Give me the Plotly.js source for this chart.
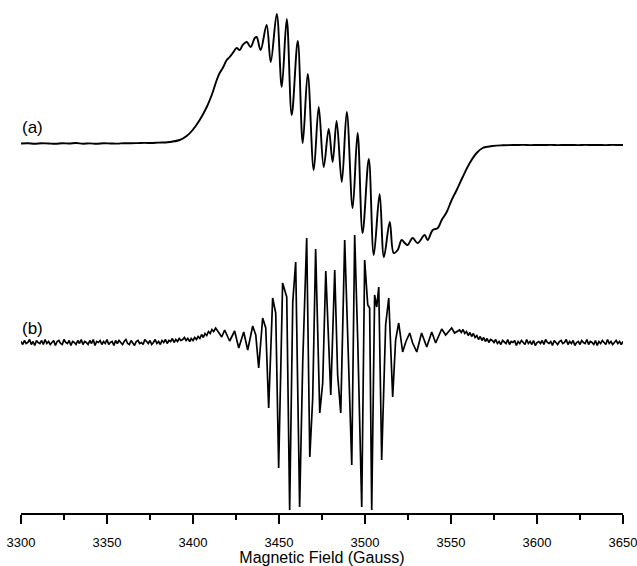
<!DOCTYPE html>
<html>
<head>
<meta charset="utf-8">
<script src="https://cdn.plot.ly/plotly-3.0.1.min.js"></script>
<style>html,body{margin:0;padding:0;background:#fff;}#chart{width:637px;height:566px;}</style>
</head>
<body>
<div id="chart"></div>
<script>
// Spectrum (a): field (Gauss) and derivative signal (arbitrary units, relative to baseline)
var aField = [3300,3304,3308,3312,3316,3320,3324,3328,3332,3336,3340,3344,3348,3352,3356,3360,3364,3368,3372,3376,3380,3384,
  3386.5,3392.3,3396.3,3399.8,3403.9,3408.0,3410.9,3413.8,3415.5,3417.3,3419.6,3421.3,3423.1,3425.4,3427.1,3428.9,3431.2,3433.5,3435.9,3437.0,
  3439.3,3442.8,3445.2,3448.7,3451.6,3454.5,3457.4,3460.9,3463.8,3466.7,3470.2,3473.1,3476.0,3478.9,3481.2,3483.5,3486.5,3489.4,3492.8,3495.7,
  3498.6,3502.2,3505.1,3508.5,3511.0,3514.4,3516.7,3519.0,3521.3,3523.1,3524.8,3527.7,3530.6,3534.7,3536.4,3539.4,3542.3,3544.6,3547.5,3550.4,
  3553.3,3556.8,3560.9,3564.9,3568.4,3574.2,3580.0,
  3588,3592,3596,3600,3604,3608,3612,3616,3620,3624,3628,3632,3636,3640,3644,3648,3650];
var aSignal = [0,0.2,-0.2,0.3,0,-0.3,0.2,0,0.5,-0.2,0.1,-0.3,0.2,0,-0.1,0.3,0.2,0.4,0.6,0.5,0.9,1.0,
  1.5,3.5,7.5,13.5,23.5,36.5,48.5,63.5,70.5,75.5,83.5,86.5,90.5,95.5,93.5,98.5,101.5,96.5,105.5,106.5,
  93.5,118.5,81.5,129.5,56.5,124.5,28.5,102.5,0.5,69.5,-26.5,36.5,-23.5,14.5,-18.5,22.5,-38.5,31.5,-64.5,10.5,
  -89.5,-15.5,-111.5,-50.5,-113.5,-78.5,-109.5,-106.5,-96.5,-99.5,-101.5,-94.5,-99.5,-91.5,-96.5,-86.5,-84.5,-76.5,-68.5,-56.5,
  -46.5,-33.5,-19.5,-9.5,-4.5,-2.5,-1.8,
  -1.5,-1.4,-1.6,-1.5,-1.5,-1.4,-1.6,-1.5,-1.5,-1.6,-1.4,-1.5,-1.5,-1.6,-1.4,-1.5,-1.5];

// Spectrum (b): field (Gauss) and signal (arbitrary units, relative to baseline)
var bField = [
  3300,3301,3302,3303,3304,3305,3306,3307,3308,3309,3310,3311,3312,3313,3314,3315,3316,3317,3318,3319,
  3320,3321,3322,3323,3324,3325,3326,3327,3328,3329,3330,3331,3332,3333,3334,3335,3336,3337,3338,3339,
  3340,3341,3342,3343,3344,3345,3346,3347,3348,3349,3350,3351,3352,3353,3354,3355,3356,3357,3358,3359,
  3360,3361,3362,3363,3364,3365,3366,3367,3368,3369,3370,3371,3372,3373,3374,3375,3376,3377,3378,3379,
  3380,3381,3382,3383,3384,3385,3386,3387,3388,3389,3390,3391,3392,3393,3394,3395,3396,
  3397,3398.1,3399,3400,3401,3402,3403,3404,3405,3406,3407,3408,3409,3410,3411,3412,
  3413.2,3416.7,3418.4,3421.3,3424.2,3426.6,3429.5,3431.8,3434.7,3436.5,3438.2,
  3440.5,3442.3,3444.0,3446.3,3448.1,3449.8,3452.1,3453.3,3454.5,3456.2,3458.0,3459.7,3462.0,3463.8,3466.1,3467.9,
  3469.6,3471.3,3473.7,3475.4,3477.2,3480.1,3482.4,3484.1,3485.9,3488.2,3492.3,3494.0,3495.8,3498.1,3499.8,3501.6,
  3502.7,3503.9,3505.6,3506.8,3508.0,3509.7,3512.0,3513.8,3516.1,3517.8,3519.6,3521.9,3523.7,3526.0,3527.7,3530.1,
  3532.9,3535.9,3538.8,3541.1,3544.6,3546.9,3550.4,3552.1,3555.0,
  3556,3557,3558,3559,3560,3561,3562,3563,3564,3565,3566,3567,3568,3569,3570,3571,3572,3573,
  3574,3575,3576,3577,3578,3579,3580,3581,3582,3583,3584,3585,3586,3587,3588,3589,3590,3591,3592,3593,
  3594,3595,3596,3597,3598,3599,3600,3601,3602,3603,3604,3605,3606,3607,3608,3609,3610,3611,3612,3613,
  3614,3615,3616,3617,3618,3619,3620,3621,3622,3623,3624,3625,3626,3627,3628,3629,3630,3631,3632,3633,
  3634,3635,3636,3637,3638,3639,3640,3641,3642,3643,3644,3645,3646,3647,3648,3649,3650];
var bSignal = [
  1,-2,2,-1,0,3,-2,1,-3,2, 0,-1,2,-2,3,-1,1,-2,0,2,
  -3,1,2,-1,-2,3,0,-1,2,-3, 1,0,-2,2,-1,3,-2,1,0,-2,
  2,-1,3,-3,1,0,2,-2,1,-1, 3,-2,0,1,-3,2,-1,2,0,-2,
  1,3,-1,-2,2,0,-3,1,2,-1, 0,-2,3,1,-1,2,-2,0,3,-1,
  1,-2,2,0,3,-1,2,1,4,0, 3,1,4,2,3,5,2,
  4,1,4,2,5,3,6,4,8,5,9,7,11,9,13,11,
  14.5,5.5,12.5,1.5,11.5,-5.5,10.5,-7.5,16.5,7.5,-25.5,
  24.5,14.5,-65.5,44.5,29.5,-125.5,59.5,52.5,45.5,-167.5,40.5,80.5,-164.5,-19.5,104.5,-114.5,
  -55.5,93.5,-70.5,-40.5,71.5,-52.5,72.5,-32.5,-70.5,102.5,-122.5,107.5,0.5,-164.5,82.5,37.5,
  34.5,-167.5,47.5,35.5,55.5,-117.5,17.5,44.5,-54.5,2.5,19.5,-9.5,0.5,9.5,-0.5,-9.5,
  9.5,-4.5,10.5,-0.5,13.5,7.5,14.5,9.5,12.5,
  10,13,9,11,7,10,6,9,5,7,3,6,2,5,1,4,0,3,
  2,0,3,-1,1,-2,2,0,-1,3, -2,1,0,2,-3,1,-1,2,0,-2,
  3,-1,1,-2,2,-3,0,1,-1,2, -2,3,0,-1,1,-3,2,0,-2,1,
  2,-1,0,3,-2,1,-1,2,-3,0, 1,-2,2,0,-1,3,-2,1,0,-2,
  2,-3,1,-1,2,0,-2,3,-1,1, -2,0,2,-1,1,-2,1];

var xTickVals = [3300,3350,3400,3450,3500,3550,3600,3650];
var curveLabels = ["(a)", "(b)"];

// vertical placement of the two stacked spectra (hidden y axis, 0..513)
var offsetA = 369.5, offsetB = 170.5;

var traces = [
  {x: aField, y: aSignal.map(function(v){return v + offsetA;}), type: 'scatter', mode: 'lines',
   line: {color: '#000', width: 1.9, shape: 'spline', smoothing: 1}, hoverinfo: 'skip'},
  {x: bField, y: bSignal.map(function(v){return v + offsetB;}), type: 'scatter', mode: 'lines',
   line: {color: '#000', width: 1.7}, hoverinfo: 'skip'}
];

var layout = {
  width: 637, height: 566,
  margin: {l: 21.3, r: 13.7, t: 0, b: 53},
  paper_bgcolor: '#fff', plot_bgcolor: '#fff',
  showlegend: false,
  font: {family: 'Liberation Sans, Arial, sans-serif', color: '#000'},
  xaxis: {
    range: [3300, 3650], tickvals: xTickVals, ticktext: xTickVals.map(String),
    showline: true, linecolor: '#000', linewidth: 1.5,
    ticks: 'outside', ticklen: 9, tickwidth: 1.3, tickcolor: '#000',
    ticklabelstandoff: 8, ticklabeloverflow: 'allow',
    minor: {dtick: 25, tick0: 3300, ticks: 'outside', ticklen: 5, tickwidth: 1.3, tickcolor: '#000', showgrid: false},
    showgrid: false, zeroline: false,
    tickfont: {size: 13, color: '#000'},
    title: {text: 'Magnetic Field (Gauss)', font: {size: 16, color: '#000'}, standoff: 3},
    automargin: false
  },
  yaxis: {range: [0, 513], visible: false, showgrid: false, zeroline: false, fixedrange: true},
  annotations: [
    {x: -0.002, y: 0.752, xref: 'paper', yref: 'paper', text: curveLabels[0], showarrow: false, xanchor: 'left', yanchor: 'middle', font: {size: 17, color: '#000'}},
    {x: -0.001, y: 0.359, xref: 'paper', yref: 'paper', text: curveLabels[1], showarrow: false, xanchor: 'left', yanchor: 'middle', font: {size: 17, color: '#000'}}
  ]
};

Plotly.newPlot('chart', traces, layout, {staticPlot: true, displayModeBar: false});
</script>
</body>
</html>
